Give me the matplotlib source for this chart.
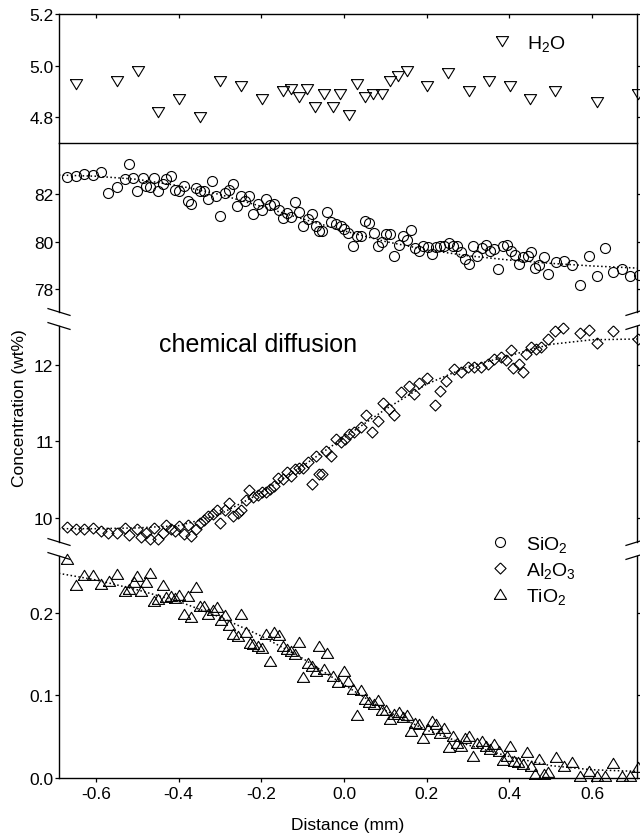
import matplotlib
matplotlib.use('Agg')
import matplotlib.pyplot as plt
from matplotlib.lines import Line2D

plt.rcParams['font.family'] = ['Liberation Sans', 'DejaVu Sans']
plt.rcParams['mathtext.fontset'] = 'custom'
plt.rcParams['mathtext.rm'] = 'Liberation Sans'
plt.rcParams['mathtext.it'] = 'Liberation Sans:italic'
plt.rcParams['axes.unicode_minus'] = False

# ---- data ----
h2o_x = [-0.649, -0.550, -0.499, -0.450, -0.400, -0.349, -0.300, -0.249, -0.199, -0.148,
         -0.128, -0.109, -0.090, -0.070, -0.048, -0.027, -0.010, 0.012, 0.031, 0.051,
         0.070, 0.092, 0.111, 0.131, 0.152, 0.201, 0.252, 0.303, 0.351, 0.402,
         0.450, 0.511, 0.613, 0.712]
h2o_y = [4.93, 4.94, 4.98, 4.82, 4.87, 4.80, 4.94, 4.92, 4.87, 4.90,
         4.91, 4.88, 4.91, 4.84, 4.89, 4.84, 4.89, 4.81, 4.93, 4.88,
         4.89, 4.89, 4.94, 4.96, 4.98, 4.92, 4.97, 4.90, 4.94, 4.92,
         4.87, 4.90, 4.86, 4.89]

sio2_x = [-0.669, -0.649, -0.629, -0.608, -0.588, -0.570, -0.550, -0.530, -0.519, -0.510,
          -0.500, -0.487, -0.478, -0.469, -0.459, -0.450, -0.439, -0.430, -0.419, -0.409,
          -0.399, -0.388, -0.378, -0.369, -0.358, -0.348, -0.338, -0.329, -0.320, -0.310,
          -0.299, -0.288, -0.277, -0.268, -0.259, -0.249, -0.239, -0.229, -0.220, -0.209,
          -0.199, -0.189, -0.178, -0.169, -0.158, -0.148, -0.138, -0.128, -0.119, -0.108,
          -0.099, -0.088, -0.077, -0.068, -0.060, -0.052, -0.040, -0.031, -0.019, -0.007,
          0.001, 0.010, 0.021, 0.031, 0.041, 0.052, 0.061, 0.072, 0.082, 0.092,
          0.102, 0.111, 0.122, 0.132, 0.142, 0.152, 0.162, 0.173, 0.182, 0.192,
          0.203, 0.212, 0.223, 0.232, 0.243, 0.253, 0.263, 0.273, 0.283, 0.293,
          0.303, 0.313, 0.323, 0.333, 0.344, 0.353, 0.364, 0.372, 0.384, 0.394,
          0.404, 0.414, 0.424, 0.434, 0.445, 0.453, 0.462, 0.473, 0.483, 0.493,
          0.512, 0.532, 0.551, 0.571, 0.592, 0.612, 0.632, 0.652, 0.672, 0.692,
          0.713]
sio2_y = [82.70, 82.75, 82.84, 82.80, 82.91, 82.04, 82.28, 82.63, 83.26, 82.66,
          82.11, 82.66, 82.35, 82.28, 82.66, 82.11, 82.42, 82.63, 82.77, 82.18,
          82.14, 82.35, 81.72, 81.58, 82.24, 82.14, 82.14, 81.79, 82.56, 81.93,
          81.09, 82.04, 82.18, 82.42, 81.51, 81.93, 81.72, 81.90, 81.16, 81.58,
          81.34, 81.79, 81.54, 81.58, 81.34, 80.98, 81.20, 81.02, 81.68, 81.25,
          80.64, 80.95, 81.16, 80.67, 80.46, 80.46, 81.25, 80.81, 80.74, 80.64,
          80.53, 80.36, 79.80, 80.22, 80.24, 80.88, 80.78, 80.36, 79.80, 79.99,
          80.32, 80.32, 79.40, 79.85, 80.24, 80.08, 80.50, 79.71, 79.61, 79.80,
          79.75, 79.47, 79.75, 79.80, 79.82, 79.94, 79.80, 79.80, 79.54, 79.26,
          79.05, 79.80, 79.40, 79.71, 79.85, 79.61, 79.68, 78.84, 79.80, 79.85,
          79.61, 79.43, 79.05, 79.33, 79.38, 79.54, 78.87, 79.01, 79.33, 78.63,
          79.15, 79.19, 79.01, 78.18, 79.40, 78.56, 79.71, 78.70, 78.84, 78.56,
          78.59]

al_x = [-0.669, -0.649, -0.629, -0.608, -0.588, -0.570, -0.550, -0.530, -0.520, -0.500,
        -0.490, -0.480, -0.469, -0.459, -0.450, -0.439, -0.430, -0.419, -0.409, -0.399,
        -0.388, -0.378, -0.369, -0.358, -0.348, -0.338, -0.329, -0.318, -0.307, -0.299,
        -0.288, -0.277, -0.268, -0.257, -0.248, -0.237, -0.229, -0.220, -0.209, -0.199,
        -0.189, -0.178, -0.169, -0.159, -0.148, -0.139, -0.128, -0.119, -0.108, -0.099,
        -0.088, -0.078, -0.068, -0.060, -0.052, -0.044, -0.031, -0.019, -0.007, 0.002,
        0.013, 0.025, 0.041, 0.053, 0.069, 0.082, 0.094, 0.110, 0.122, 0.138,
        0.158, 0.170, 0.182, 0.201, 0.220, 0.233, 0.247, 0.267, 0.283, 0.299,
        0.315, 0.332, 0.348, 0.364, 0.380, 0.392, 0.403, 0.408, 0.424, 0.432,
        0.440, 0.453, 0.465, 0.477, 0.493, 0.511, 0.531, 0.571, 0.592, 0.612,
        0.652, 0.711]
al_y = [9.88, 9.85, 9.86, 9.87, 9.83, 9.81, 9.80, 9.87, 9.78, 9.86,
        9.75, 9.81, 9.73, 9.87, 9.73, 9.81, 9.91, 9.86, 9.83, 9.89,
        9.79, 9.91, 9.77, 9.86, 9.94, 9.98, 10.02, 10.05, 10.10, 9.93,
        10.11, 10.20, 10.02, 10.07, 10.10, 10.23, 10.36, 10.27, 10.30, 10.34,
        10.34, 10.38, 10.42, 10.52, 10.51, 10.60, 10.55, 10.64, 10.65, 10.66,
        10.73, 10.44, 10.81, 10.58, 10.58, 10.88, 10.81, 11.03, 10.99, 11.03,
        11.10, 11.12, 11.19, 11.35, 11.13, 11.27, 11.50, 11.42, 11.34, 11.65,
        11.73, 11.62, 11.76, 11.83, 11.48, 11.66, 11.79, 11.95, 11.91, 11.98,
        11.97, 11.98, 12.01, 12.08, 12.11, 12.06, 12.19, 11.96, 12.01, 11.91,
        12.14, 12.23, 12.21, 12.23, 12.34, 12.45, 12.48, 12.42, 12.46, 12.29,
        12.45, 12.34]

ti_x = [-0.669, -0.649, -0.629, -0.608, -0.588, -0.568, -0.550, -0.530, -0.520, -0.509,
        -0.500, -0.490, -0.480, -0.469, -0.459, -0.450, -0.439, -0.430, -0.419, -0.409,
        -0.399, -0.388, -0.378, -0.369, -0.358, -0.348, -0.338, -0.329, -0.318, -0.307,
        -0.298, -0.288, -0.277, -0.268, -0.257, -0.248, -0.237, -0.228, -0.219, -0.209,
        -0.199, -0.189, -0.178, -0.169, -0.158, -0.148, -0.138, -0.128, -0.119, -0.108,
        -0.098, -0.088, -0.077, -0.068, -0.060, -0.048, -0.040, -0.027, -0.015, 0.001,
        0.010, 0.021, 0.031, 0.041, 0.052, 0.061, 0.072, 0.082, 0.092, 0.102,
        0.111, 0.122, 0.132, 0.142, 0.152, 0.162, 0.172, 0.182, 0.192, 0.203,
        0.212, 0.223, 0.232, 0.243, 0.253, 0.263, 0.273, 0.283, 0.293, 0.303,
        0.313, 0.323, 0.333, 0.344, 0.353, 0.364, 0.374, 0.384, 0.394, 0.402,
        0.412, 0.422, 0.432, 0.442, 0.453, 0.462, 0.473, 0.483, 0.493, 0.512,
        0.532, 0.551, 0.571, 0.592, 0.612, 0.632, 0.652, 0.672, 0.692, 0.711]
ti_y = [0.265, 0.234, 0.246, 0.246, 0.235, 0.239, 0.247, 0.226, 0.229, 0.237,
        0.245, 0.227, 0.237, 0.248, 0.215, 0.217, 0.234, 0.219, 0.221, 0.218,
        0.222, 0.199, 0.221, 0.195, 0.232, 0.209, 0.209, 0.199, 0.204, 0.207,
        0.191, 0.197, 0.185, 0.175, 0.172, 0.199, 0.177, 0.164, 0.162, 0.160,
        0.158, 0.175, 0.142, 0.177, 0.173, 0.160, 0.156, 0.154, 0.150, 0.165,
        0.122, 0.139, 0.136, 0.130, 0.160, 0.132, 0.152, 0.124, 0.116, 0.130,
        0.118, 0.108, 0.076, 0.107, 0.096, 0.092, 0.090, 0.094, 0.082, 0.082,
        0.072, 0.078, 0.080, 0.074, 0.076, 0.057, 0.067, 0.065, 0.049, 0.059,
        0.069, 0.065, 0.055, 0.061, 0.037, 0.051, 0.043, 0.039, 0.049, 0.051,
        0.027, 0.042, 0.045, 0.039, 0.035, 0.041, 0.033, 0.022, 0.027, 0.039,
        0.021, 0.019, 0.017, 0.031, 0.015, 0.005, 0.023, 0.005, 0.007, 0.025,
        0.015, 0.019, 0.003, 0.009, 0.003, 0.003, 0.018, 0.003, 0.003, 0.013]

# dotted model curves
sio2_fit_x = [-0.69, -0.6, -0.5, -0.4, -0.3, -0.2, -0.1, 0.0, 0.1, 0.2, 0.3, 0.4, 0.5, 0.6, 0.71]
sio2_fit_y = [82.80, 82.75, 82.62, 82.35, 81.98, 81.48, 80.95, 80.45, 80.00, 79.65, 79.40, 79.22, 79.08, 78.97, 78.88]
al_fit_x = [-0.69, -0.6, -0.5, -0.4, -0.35, -0.3, -0.2, -0.1, 0.0, 0.1, 0.2, 0.3, 0.4, 0.45, 0.5, 0.6, 0.71]
al_fit_y = [9.86, 9.86, 9.87, 9.90, 9.97, 10.05, 10.33, 10.68, 11.05, 11.42, 11.75, 11.98, 12.12, 12.20, 12.27, 12.33, 12.34]
ti_fit_x = [-0.69, -0.6, -0.5, -0.4, -0.3, -0.2, -0.1, 0.0, 0.1, 0.2, 0.3, 0.4, 0.5, 0.6, 0.71]
ti_fit_y = [0.248, 0.240, 0.228, 0.214, 0.195, 0.172, 0.145, 0.113, 0.082, 0.058, 0.040, 0.026, 0.015, 0.010, 0.008]

xticks = [-0.6, -0.4, -0.2, 0.0, 0.2, 0.4, 0.6]

# ---- marker shapes ----
tri_up = [(-1, -0.8), (1, -0.8), (0, 0.85), (-1, -0.8)]
tri_down = [(-1, 0.8), (1, 0.8), (0, -0.85), (-1, 0.8)]
diamond = [(0, 1), (1, 0), (0, -1), (-1, 0), (0, 1)]

W, H = 640, 837
fig = plt.figure(figsize=(6.4, 8.37), dpi=100)

def box(top, bottom):
    return [59 / W, 1 - bottom / H, (637 - 59) / W, (bottom - top) / H]

ax_h = fig.add_axes(box(15, 144))
ax_si = fig.add_axes(box(144, 313))
ax_al = fig.add_axes(box(327, 543))
ax_ti = fig.add_axes(box(557, 779))
axes = [ax_h, ax_si, ax_al, ax_ti]

mk = dict(linestyle='none', mfc='none', mec='black', mew=0.8, clip_on=False)
fit = dict(color='black', linestyle=(0, (1, 1.6)), lw=1.1)

ax_h.plot(h2o_x, h2o_y, marker=tri_down, ms=8.8, label='H$_2$O', **mk)
ax_si.plot(sio2_fit_x, sio2_fit_y, **fit)
ax_si.plot(sio2_x, sio2_y, marker='o', ms=7.2, **mk)
ax_al.plot(al_fit_x, al_fit_y, **fit)
ax_al.plot(al_x, al_y, marker=diamond, ms=8.0, **mk)
ax_ti.plot(ti_fit_x, ti_fit_y, **fit)
ax_ti.plot(ti_x, ti_y, marker=tri_up, ms=8.8, **mk)

ax_h.set_ylim(4.70, 5.20)
ax_si.set_ylim(77.03, 84.15)
ax_al.set_ylim(9.686, 12.51)
ax_ti.set_ylim(0.0, 0.269)
ax_h.set_yticks([4.8, 5.0, 5.2])
ax_h.set_yticklabels(['4.8', '5.0', '5.2'])
ax_si.set_yticks([78, 80, 82])
ax_al.set_yticks([10, 11, 12])
ax_ti.set_yticks([0.0, 0.1, 0.2])
ax_ti.set_yticklabels(['0.0', '0.1', '0.2'])

for ax in axes:
    ax.patch.set_visible(False)
    ax.set_xlim(-0.6895, 0.709)
    ax.set_xticks(xticks)
    for s in ax.spines.values():
        s.set_linewidth(1.0)
    ax.spines['top'].set_visible(False)
    ax.spines['bottom'].set_visible(False)
    ax.tick_params(axis='y', which='both', direction='out', length=3, width=0.9,
                   pad=1, labelsize=12.5, right=True)
    ax.tick_params(axis='x', bottom=False, top=False, labelbottom=False)

ax_h.spines['top'].set_visible(True)
ax_h.spines['bottom'].set_visible(True)
ax_h.spines['bottom'].set_zorder(5)
ax_h.tick_params(axis='x', top=True, direction='in', length=3, width=0.9)
ax_ti.spines['bottom'].set_visible(True)
ax_ti.tick_params(axis='x', bottom=True, labelbottom=True, direction='out',
                  length=3, width=0.9, pad=3, labelsize=12.5)
ax_ti.set_xticklabels(['%.1f' % t for t in xticks])

# axis break marks
def brk(y_px, side):
    cx = 59 if side == 'left' else 637
    if side == 'left':
        xs, ys = [cx - 11, cx + 11], [y_px - 3.4, y_px + 3.4]
    else:
        xs, ys = [cx - 11, cx + 11], [y_px + 3.4, y_px - 3.4]
    fig.add_artist(Line2D([x / W for x in xs], [1 - y / H for y in ys],
                          transform=fig.transFigure, color='black', lw=0.9))

for y in [313, 327, 543, 557]:
    brk(y, 'left')
    brk(y, 'right')

ax_al.text(-0.448, 12.27, 'chemical diffusion', fontsize=18, va='center', ha='left')

ax_h.legend(loc='upper left', bbox_to_anchor=(492 / W, 1 - 34 / H),
            bbox_transform=fig.transFigure, frameon=False, fontsize=14,
            handlelength=1.0, handletextpad=0.8, borderpad=0, borderaxespad=0,
            numpoints=1)

handles = [Line2D([], [], marker='o', ms=7.2, **mk),
           Line2D([], [], marker=diamond, ms=8.0, **mk),
           Line2D([], [], marker=tri_up, ms=8.8, **mk)]
ax_ti.legend(handles, ['SiO$_2$', 'Al$_2$O$_3$', 'TiO$_2$'], loc='upper left',
             bbox_to_anchor=(490 / W, 1 - 535 / H), bbox_transform=fig.transFigure,
             frameon=False, fontsize=14, handlelength=1.0, handletextpad=0.85,
             borderpad=0, borderaxespad=0, labelspacing=0.3, numpoints=1)

fig.text(20 / W, 1 - 408 / H, 'Concentration (wt%)', rotation=90, fontsize=12.5,
         ha='center', va='center')
fig.text(348 / W, 1 - 826 / H, 'Distance (mm)', fontsize=12.5, ha='center', va='center')

fig.savefig('out.png', dpi=100)
